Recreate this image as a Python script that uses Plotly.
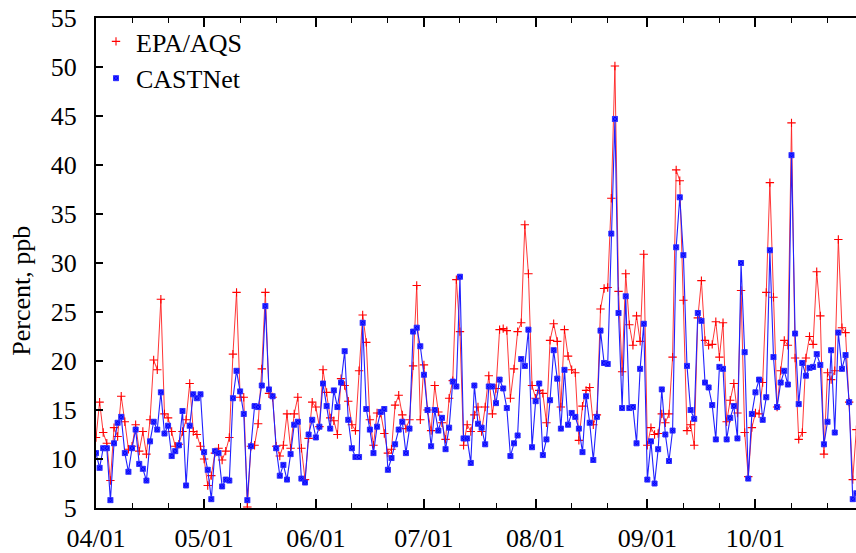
import plotly.graph_objects as go
import pandas as pd

# Daily values starting 04/01 (ppb)
epa_aqs = [
    12.2, 15.8, 12.7, 11.6, 7.8, 13.2, 12.3, 16.4, 13.8, 11.0,
    11.3, 13.5, 10.8, 12.8, 10.5, 14.0, 20.1, 19.1, 26.3, 14.6,
    14.2, 12.8, 11.3, 11.5, 12.8, 14.0, 17.7, 12.8, 12.5, 11.3,
    10.0, 7.3, 8.3, 10.6, 11.1, 9.9, 10.8, 12.2, 20.7, 27.0,
    16.3, 16.3, 5.1, 11.3, 11.4, 13.6, 19.2, 27.0, 16.7, 16.3,
    11.3, 10.3, 11.4, 14.6, 11.1, 14.6, 16.3, 11.1, 7.9, 12.1,
    15.8, 15.3, 13.3, 19.1, 16.8, 14.2, 13.9, 12.5, 18.2, 17.5,
    15.9, 13.5, 12.9, 19.0, 24.7, 21.9, 14.0, 11.4, 14.7, 14.7,
    12.6, 10.6, 11.0, 15.5, 16.5, 14.5, 13.1, 14.0, 19.5, 27.7,
    14.0, 19.6, 15.0, 12.9, 17.5, 14.8, 13.7, 12.0, 16.2, 18.0,
    28.3, 23.0, 11.4, 13.5, 12.8, 14.5, 15.3, 12.8, 15.3, 18.5,
    14.6, 17.2, 23.2, 23.3, 23.1, 16.2, 19.2, 23.0, 23.9, 33.9,
    28.9, 17.5, 16.2, 17.0, 16.7, 13.7, 22.1, 23.8, 22.0, 15.3,
    23.2, 20.5, 19.1, 18.8, 11.9, 15.4, 17.0, 17.3, 13.5, 14.5,
    25.3, 27.4, 27.5, 36.6, 50.1, 27.1, 18.9, 28.9, 23.7, 21.6,
    24.6, 22.0, 30.9, 11.4, 13.2, 12.5, 12.6, 14.6, 13.7, 14.6,
    20.4, 39.5, 38.4, 26.2, 12.9, 13.5, 11.4, 24.4, 28.2, 22.1,
    21.6, 21.7, 24.0, 20.4, 23.9, 13.8, 16.0, 17.7, 14.7, 27.2,
    12.7, 8.2, 13.2, 14.7, 14.6, 17.8, 27.0, 38.2, 26.5, 15.3,
    19.0, 22.1, 21.6, 44.3, 20.3, 12.0, 12.7, 20.3, 22.5, 21.7,
    29.1, 24.6, 10.5, 18.8, 18.1, 19.0, 32.4, 23.4, 22.9, 15.8,
    7.9, 13.0,
]

castnet = [
    10.6, 9.1, 11.1, 11.1, 5.8, 11.6, 13.7, 14.3, 10.6, 8.7,
    11.1, 13.0, 9.5, 9.0, 7.8, 11.8, 13.8, 13.0, 16.8, 12.6,
    13.4, 10.3, 10.8, 11.4, 14.9, 7.3, 13.4, 16.6, 16.2, 16.6,
    10.7, 8.9, 5.9, 10.8, 10.6, 7.2, 7.9, 7.8, 16.2, 19.0,
    16.9, 14.6, 5.8, 11.3, 15.4, 15.3, 17.5, 25.6, 17.1, 16.4,
    11.1, 8.3, 9.4, 7.9, 10.5, 13.5, 13.8, 8.0, 7.6, 12.5,
    14.0, 12.2, 13.3, 17.7, 15.4, 13.1, 17.0, 15.3, 17.8, 21.0,
    14.0, 11.1, 10.2, 10.2, 23.9, 15.1, 13.0, 10.6, 13.3, 14.8,
    15.1, 8.9, 10.1, 11.5, 13.0, 13.8, 10.6, 13.1, 23.0, 23.4,
    21.5, 18.6, 15.0, 11.3, 15.0, 12.9, 14.2, 11.0, 13.2, 17.9,
    17.4, 28.6, 12.1, 12.1, 9.6, 17.5, 13.6, 13.2, 11.5, 17.4,
    17.4, 15.7, 18.1, 17.2, 15.2, 10.3, 11.6, 12.4, 20.2, 19.5,
    23.2, 11.2, 15.9, 17.7, 10.4, 12.0, 16.0, 21.1, 18.2, 13.1,
    19.1, 13.5, 14.7, 14.3, 13.1, 10.7, 16.4, 13.7, 9.9, 14.3,
    23.1, 19.8, 19.7, 33.0, 44.7, 24.9, 15.2, 26.6, 15.2, 15.3,
    11.6, 19.2, 23.8, 7.9, 11.8, 7.5, 11.0, 17.1, 12.5, 9.8,
    12.9, 31.6, 36.7, 30.8, 19.5, 15.0, 14.1, 24.9, 24.1, 17.8,
    17.3, 15.5, 12.0, 19.4, 19.2, 12.0, 14.2, 15.4, 12.1, 30.0,
    20.9, 8.0, 14.6, 16.8, 18.1, 14.0, 16.3, 31.3, 20.4, 15.3,
    17.8, 19.0, 17.6, 41.0, 22.8, 15.6, 19.8, 18.5, 19.3, 19.4,
    20.7, 19.6, 11.5, 13.8, 21.1, 12.7, 22.9, 19.2, 20.6, 15.8,
    5.9, 6.5,
]

start_date = "2011-04-01"
month_ticks = ["2011-04-01", "2011-05-01", "2011-06-01", "2011-07-01",
               "2011-08-01", "2011-09-01", "2011-10-01"]
month_labels = ["04/01", "05/01", "06/01", "07/01", "08/01", "09/01", "10/01"]
minor_days = [11, 21]
y_ticks = [5, 10, 15, 20, 25, 30, 35, 40, 45, 50, 55]

dates = pd.date_range(start_date, periods=len(epa_aqs), freq="D")
minor_vals = [f"{m[:8]}{d:02d}" for m in month_ticks for d in minor_days]

x_end = pd.Timestamp(start_date) + pd.Timedelta(hours=210.9 * 24)

FONT = "Liberation Serif, Times New Roman, serif"

red_marker = dict(symbol="cross-thin", size=6, line=dict(color="#ff0000", width=1.1))
blue_marker = dict(symbol="square-x", size=5, color="#0000ff",
                   line=dict(color="#3030ff", width=1))

fig = go.Figure()
fig.add_trace(go.Scatter(
    x=dates, y=epa_aqs, mode="lines+markers", name="EPA/AQS", showlegend=False,
    line=dict(color="#ff2020", width=0.9), marker=red_marker,
))
fig.add_trace(go.Scatter(
    x=dates, y=castnet, mode="lines+markers", name="CASTNet", showlegend=False,
    line=dict(color="#2020ff", width=1.1), marker=blue_marker,
))
# legend entries (marker samples only)
fig.add_trace(go.Scatter(x=[None], y=[None], mode="markers", name="EPA/AQS",
                         marker=red_marker))
fig.add_trace(go.Scatter(x=[None], y=[None], mode="markers", name="CASTNet",
                         marker=blue_marker))

fig.update_layout(
    width=856, height=553,
    margin=dict(l=96, r=0, t=18, b=41),
    paper_bgcolor="white", plot_bgcolor="white",
    font=dict(family=FONT, size=26, color="black"),
    showlegend=True,
    legend=dict(x=0.0, y=1.0, xanchor="left", yanchor="top",
                bgcolor="rgba(0,0,0,0)", font=dict(size=26),
                tracegroupgap=0),
    xaxis=dict(
        type="date", range=[pd.Timestamp(start_date), x_end],
        tickmode="array", tickvals=month_ticks, ticktext=month_labels,
        ticks="inside", ticklen=9, tickwidth=1.5, tickcolor="black",
        minor=dict(tickmode="array", tickvals=minor_vals, ticks="inside",
                   ticklen=5, tickwidth=1.2, tickcolor="black"),
        showline=True, linecolor="black", linewidth=2, mirror="ticks",
        showgrid=False, zeroline=False, ticklabelstandoff=6,
        tickfont=dict(size=26),
    ),
    yaxis=dict(
        range=[5, 55], tickmode="array", tickvals=y_ticks,
        ticks="inside", ticklen=7, tickwidth=1.5, tickcolor="black",
        showline=True, linecolor="black", linewidth=2,
        showgrid=False, zeroline=False, ticklabelstandoff=12,
        tickfont=dict(size=26),
    ),
    annotations=[dict(
        text="Percent, ppb", textangle=-90, showarrow=False,
        xref="paper", yref="paper", x=(22 - 96) / 760, y=(512 - 293) / 494,
        xanchor="center", yanchor="middle", font=dict(size=26),
    )],
)

fig.write_html("out.html")
